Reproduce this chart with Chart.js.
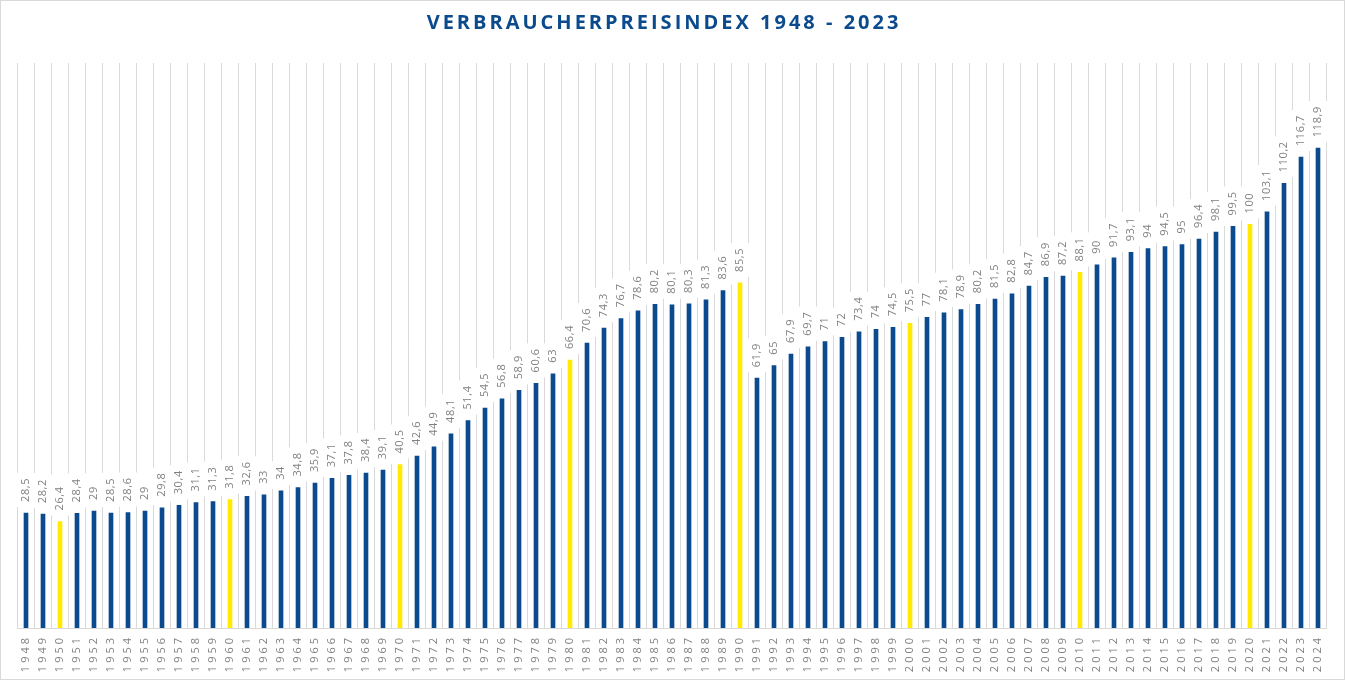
<!DOCTYPE html>
<html>
<head>
<meta charset="utf-8">
<script src="https://cdn.jsdelivr.net/npm/chart.js@4/dist/chart.umd.min.js"></script>
<style>
  html, body { margin: 0; padding: 0; background: #fff; }
  #wrap { width: 1343px; height: 678px; border: 1px solid #d9d9d9; }
</style>
</head>
<body>
<div id="wrap"><canvas id="chart" width="1343" height="678"></canvas></div>
<script>
// Jahre und Indexwerte (2020 = 100)
const years = [];
for (let y = 1948; y <= 2024; y++) years.push(String(y));

const values = [
  28.5, 28.2, 26.4, 28.4, 29, 28.5, 28.6, 29, 29.8, 30.4,
  31.1, 31.3, 31.8, 32.6, 33, 34, 34.8, 35.9, 37.1, 37.8,
  38.4, 39.1, 40.5, 42.6, 44.9, 48.1, 51.4, 54.5, 56.8, 58.9,
  60.6, 63, 66.4, 70.6, 74.3, 76.7, 78.6, 80.2, 80.1, 80.3,
  81.3, 83.6, 85.5, 61.9, 65, 67.9, 69.7, 71, 72, 73.4,
  74, 74.5, 75.5, 77, 78.1, 78.9, 80.2, 81.5, 82.8, 84.7,
  86.9, 87.2, 88.1, 90, 91.7, 93.1, 94, 94.5, 95, 96.4,
  98.1, 99.5, 100, 103.1, 110.2, 116.7, 118.9
];

// Jahrzehnte gelb hervorgehoben
const highlightYears = ['1950', '1960', '1970', '1980', '1990', '2000', '2010', '2020'];

const title = 'VERBRAUCHERPREISINDEX 1948 - 2023';
const blue = '#0b4a8c';
const yellow = '#ffea00';

const fmt = v => String(v).replace('.', ',');

const labelPlugin = {
  id: 'labels',
  beforeDraw(chart) {
    chart.ctx.letterSpacing = '3px';
  },
  afterDatasetsDraw(chart) {
    const ctx = chart.ctx;
    const meta = chart.getDatasetMeta(0);
    ctx.save();
    ctx.font = '11px "Open Sans"';
    ctx.letterSpacing = '0.6px';
    // white boxes first (they hide the grid lines)
    ctx.fillStyle = '#fff';
    meta.data.forEach((bar, i) => {
      const w = ctx.measureText(fmt(values[i])).width;
      const y = bar.y - 11;
      ctx.fillRect(bar.x - 10, y - w - 5, 20, w + 10);
    });
    ctx.fillStyle = '#808080';
    ctx.textAlign = 'left';
    ctx.textBaseline = 'middle';
    meta.data.forEach((bar, i) => {
      ctx.save();
      ctx.translate(bar.x, bar.y - 11);
      ctx.rotate(-Math.PI / 2);
      ctx.fillText(fmt(values[i]), 0, 0);
      ctx.restore();
    });
    ctx.restore();
  },
  afterDraw(chart) {
    const ctx = chart.ctx;
    ctx.save();
    ctx.font = 'bold 20px "Open Sans"';
    ctx.letterSpacing = '3px';
    ctx.fillStyle = blue;
    ctx.textAlign = 'center';
    ctx.textBaseline = 'middle';
    ctx.fillText(title, 663, 22);
    ctx.restore();
  }
};

new Chart(document.getElementById('chart'), {
  type: 'bar',
  data: {
    labels: years,
    datasets: [{
      data: values,
      backgroundColor: years.map(y => highlightYears.includes(y) ? yellow : blue),
      barThickness: 4
    }]
  },
  options: {
    responsive: false,
    animation: false,
    layout: { padding: { top: 62, left: 16.5, right: 17.5, bottom: 0 } },
    plugins: {
      legend: { display: false },
      tooltip: { enabled: false },
      title: { display: false }
    },
    scales: {
      x: {
        offset: true,
        grid: { offset: true, color: '#d9d9d9', lineWidth: 1, drawTicks: false },
        border: { color: '#d9d9d9', width: 1 },
        ticks: {
          minRotation: 90,
          maxRotation: 90,
          autoSkip: false,
          padding: 7,
          color: '#808080',
          font: { family: '"Open Sans"', size: 11 }
        },
        afterFit(scale) { scale.height = 51; }
      },
      y: {
        display: false,
        min: 0,
        max: 140
      }
    }
  },
  plugins: [labelPlugin]
});
</script>
</body>
</html>
